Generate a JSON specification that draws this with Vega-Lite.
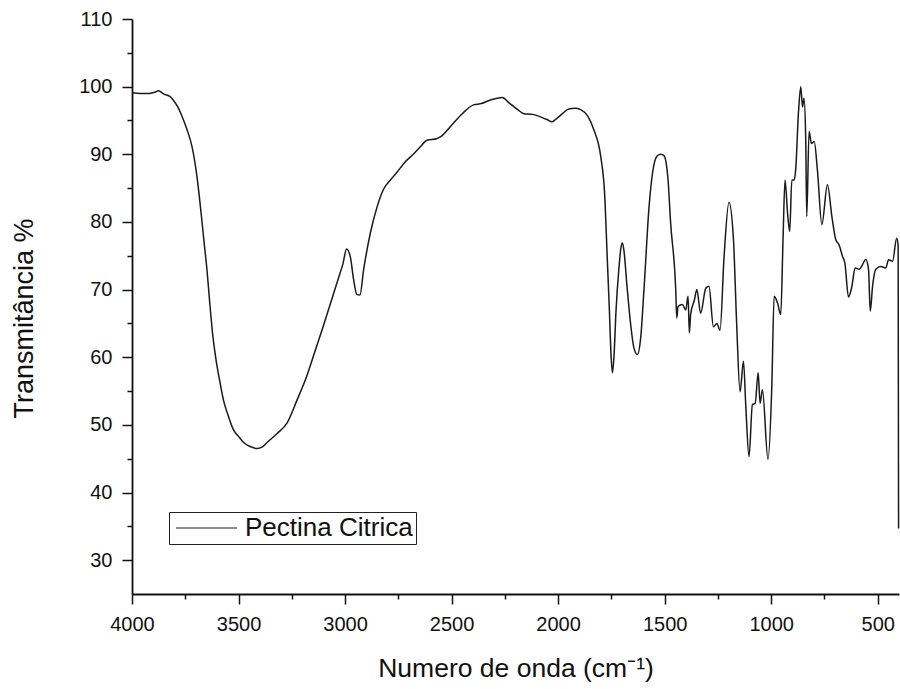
{
  "$schema": "https://vega.github.io/schema/vega-lite/v6.json",
  "width": 767,
  "height": 575,
  "autosize": {"type": "none"},
  "padding": {"left": 132, "top": 19, "right": 1, "bottom": 95},
  "background": "white",
  "config": {
    "view": {"stroke": null},
    "font": "Liberation Sans"
  },
  "data": {
    "values": [
      {"wn": 4000, "t": 99.1, "s": "Pectina Citrica"},
      {"wn": 3960, "t": 99.0, "s": "Pectina Citrica"},
      {"wn": 3920, "t": 99.0, "s": "Pectina Citrica"},
      {"wn": 3890, "t": 99.2, "s": "Pectina Citrica"},
      {"wn": 3876, "t": 99.4, "s": "Pectina Citrica"},
      {"wn": 3850, "t": 98.9, "s": "Pectina Citrica"},
      {"wn": 3820, "t": 98.5, "s": "Pectina Citrica"},
      {"wn": 3806, "t": 98.0, "s": "Pectina Citrica"},
      {"wn": 3785, "t": 97.0, "s": "Pectina Citrica"},
      {"wn": 3765, "t": 95.6, "s": "Pectina Citrica"},
      {"wn": 3740, "t": 93.5, "s": "Pectina Citrica"},
      {"wn": 3718, "t": 91.1, "s": "Pectina Citrica"},
      {"wn": 3695, "t": 86.7, "s": "Pectina Citrica"},
      {"wn": 3674, "t": 80.8, "s": "Pectina Citrica"},
      {"wn": 3660, "t": 76.5, "s": "Pectina Citrica"},
      {"wn": 3648, "t": 72.9, "s": "Pectina Citrica"},
      {"wn": 3635, "t": 68.0, "s": "Pectina Citrica"},
      {"wn": 3620, "t": 63.0, "s": "Pectina Citrica"},
      {"wn": 3605, "t": 59.5, "s": "Pectina Citrica"},
      {"wn": 3590, "t": 56.8, "s": "Pectina Citrica"},
      {"wn": 3571, "t": 53.7, "s": "Pectina Citrica"},
      {"wn": 3550, "t": 51.5, "s": "Pectina Citrica"},
      {"wn": 3524, "t": 49.3, "s": "Pectina Citrica"},
      {"wn": 3500, "t": 48.3, "s": "Pectina Citrica"},
      {"wn": 3476, "t": 47.4, "s": "Pectina Citrica"},
      {"wn": 3445, "t": 46.8, "s": "Pectina Citrica"},
      {"wn": 3413, "t": 46.5, "s": "Pectina Citrica"},
      {"wn": 3390, "t": 46.7, "s": "Pectina Citrica"},
      {"wn": 3366, "t": 47.4, "s": "Pectina Citrica"},
      {"wn": 3320, "t": 48.7, "s": "Pectina Citrica"},
      {"wn": 3272, "t": 50.3, "s": "Pectina Citrica"},
      {"wn": 3225, "t": 53.7, "s": "Pectina Citrica"},
      {"wn": 3180, "t": 57.2, "s": "Pectina Citrica"},
      {"wn": 3140, "t": 61.0, "s": "Pectina Citrica"},
      {"wn": 3100, "t": 64.8, "s": "Pectina Citrica"},
      {"wn": 3060, "t": 68.8, "s": "Pectina Citrica"},
      {"wn": 3030, "t": 71.8, "s": "Pectina Citrica"},
      {"wn": 3010, "t": 73.8, "s": "Pectina Citrica"},
      {"wn": 2993, "t": 76.0, "s": "Pectina Citrica"},
      {"wn": 2975, "t": 74.8, "s": "Pectina Citrica"},
      {"wn": 2960, "t": 71.5, "s": "Pectina Citrica"},
      {"wn": 2945, "t": 69.3, "s": "Pectina Citrica"},
      {"wn": 2930, "t": 69.2, "s": "Pectina Citrica"},
      {"wn": 2913, "t": 72.9, "s": "Pectina Citrica"},
      {"wn": 2881, "t": 78.4, "s": "Pectina Citrica"},
      {"wn": 2849, "t": 82.3, "s": "Pectina Citrica"},
      {"wn": 2820, "t": 84.8, "s": "Pectina Citrica"},
      {"wn": 2787, "t": 86.2, "s": "Pectina Citrica"},
      {"wn": 2760, "t": 87.2, "s": "Pectina Citrica"},
      {"wn": 2720, "t": 88.8, "s": "Pectina Citrica"},
      {"wn": 2680, "t": 90.0, "s": "Pectina Citrica"},
      {"wn": 2650, "t": 91.0, "s": "Pectina Citrica"},
      {"wn": 2613, "t": 92.1, "s": "Pectina Citrica"},
      {"wn": 2570, "t": 92.3, "s": "Pectina Citrica"},
      {"wn": 2551, "t": 92.6, "s": "Pectina Citrica"},
      {"wn": 2500, "t": 94.3, "s": "Pectina Citrica"},
      {"wn": 2450, "t": 96.0, "s": "Pectina Citrica"},
      {"wn": 2397, "t": 97.3, "s": "Pectina Citrica"},
      {"wn": 2360, "t": 97.5, "s": "Pectina Citrica"},
      {"wn": 2320, "t": 98.0, "s": "Pectina Citrica"},
      {"wn": 2262, "t": 98.4, "s": "Pectina Citrica"},
      {"wn": 2230, "t": 97.6, "s": "Pectina Citrica"},
      {"wn": 2190, "t": 96.6, "s": "Pectina Citrica"},
      {"wn": 2160, "t": 96.0, "s": "Pectina Citrica"},
      {"wn": 2120, "t": 95.9, "s": "Pectina Citrica"},
      {"wn": 2080, "t": 95.5, "s": "Pectina Citrica"},
      {"wn": 2050, "t": 95.1, "s": "Pectina Citrica"},
      {"wn": 2030, "t": 94.8, "s": "Pectina Citrica"},
      {"wn": 2010, "t": 95.2, "s": "Pectina Citrica"},
      {"wn": 1980, "t": 96.0, "s": "Pectina Citrica"},
      {"wn": 1950, "t": 96.7, "s": "Pectina Citrica"},
      {"wn": 1920, "t": 96.8, "s": "Pectina Citrica"},
      {"wn": 1894, "t": 96.6, "s": "Pectina Citrica"},
      {"wn": 1860, "t": 95.6, "s": "Pectina Citrica"},
      {"wn": 1832, "t": 93.6, "s": "Pectina Citrica"},
      {"wn": 1800, "t": 89.7, "s": "Pectina Citrica"},
      {"wn": 1782, "t": 84.3, "s": "Pectina Citrica"},
      {"wn": 1769, "t": 74.4, "s": "Pectina Citrica"},
      {"wn": 1760, "t": 67.5, "s": "Pectina Citrica"},
      {"wn": 1751, "t": 60.0, "s": "Pectina Citrica"},
      {"wn": 1745, "t": 57.7, "s": "Pectina Citrica"},
      {"wn": 1738, "t": 60.0, "s": "Pectina Citrica"},
      {"wn": 1728, "t": 67.0, "s": "Pectina Citrica"},
      {"wn": 1715, "t": 73.0, "s": "Pectina Citrica"},
      {"wn": 1705, "t": 76.2, "s": "Pectina Citrica"},
      {"wn": 1698, "t": 76.9, "s": "Pectina Citrica"},
      {"wn": 1690, "t": 75.5, "s": "Pectina Citrica"},
      {"wn": 1678, "t": 71.0, "s": "Pectina Citrica"},
      {"wn": 1660, "t": 65.0, "s": "Pectina Citrica"},
      {"wn": 1645, "t": 61.5, "s": "Pectina Citrica"},
      {"wn": 1628, "t": 60.4, "s": "Pectina Citrica"},
      {"wn": 1612, "t": 63.0, "s": "Pectina Citrica"},
      {"wn": 1597, "t": 70.0, "s": "Pectina Citrica"},
      {"wn": 1573, "t": 82.3, "s": "Pectina Citrica"},
      {"wn": 1557, "t": 87.2, "s": "Pectina Citrica"},
      {"wn": 1534, "t": 89.8, "s": "Pectina Citrica"},
      {"wn": 1518, "t": 90.0, "s": "Pectina Citrica"},
      {"wn": 1503, "t": 89.8, "s": "Pectina Citrica"},
      {"wn": 1484, "t": 86.2, "s": "Pectina Citrica"},
      {"wn": 1472, "t": 79.9, "s": "Pectina Citrica"},
      {"wn": 1448, "t": 70.0, "s": "Pectina Citrica"},
      {"wn": 1443, "t": 65.8, "s": "Pectina Citrica"},
      {"wn": 1437, "t": 67.5, "s": "Pectina Citrica"},
      {"wn": 1417, "t": 67.8, "s": "Pectina Citrica"},
      {"wn": 1401, "t": 67.0, "s": "Pectina Citrica"},
      {"wn": 1390, "t": 69.0, "s": "Pectina Citrica"},
      {"wn": 1384, "t": 63.6, "s": "Pectina Citrica"},
      {"wn": 1378, "t": 66.3, "s": "Pectina Citrica"},
      {"wn": 1360, "t": 68.5, "s": "Pectina Citrica"},
      {"wn": 1349, "t": 70.0, "s": "Pectina Citrica"},
      {"wn": 1331, "t": 66.5, "s": "Pectina Citrica"},
      {"wn": 1307, "t": 70.2, "s": "Pectina Citrica"},
      {"wn": 1292, "t": 70.5, "s": "Pectina Citrica"},
      {"wn": 1271, "t": 64.5, "s": "Pectina Citrica"},
      {"wn": 1255, "t": 65.0, "s": "Pectina Citrica"},
      {"wn": 1240, "t": 64.0, "s": "Pectina Citrica"},
      {"wn": 1221, "t": 74.9, "s": "Pectina Citrica"},
      {"wn": 1198, "t": 82.9, "s": "Pectina Citrica"},
      {"wn": 1177, "t": 77.4, "s": "Pectina Citrica"},
      {"wn": 1162, "t": 65.0, "s": "Pectina Citrica"},
      {"wn": 1146, "t": 54.9, "s": "Pectina Citrica"},
      {"wn": 1130, "t": 59.4, "s": "Pectina Citrica"},
      {"wn": 1119, "t": 52.7, "s": "Pectina Citrica"},
      {"wn": 1104, "t": 45.3, "s": "Pectina Citrica"},
      {"wn": 1088, "t": 53.0, "s": "Pectina Citrica"},
      {"wn": 1075, "t": 53.2, "s": "Pectina Citrica"},
      {"wn": 1061, "t": 57.7, "s": "Pectina Citrica"},
      {"wn": 1052, "t": 53.2, "s": "Pectina Citrica"},
      {"wn": 1041, "t": 55.2, "s": "Pectina Citrica"},
      {"wn": 1015, "t": 44.9, "s": "Pectina Citrica"},
      {"wn": 997, "t": 55.7, "s": "Pectina Citrica"},
      {"wn": 986, "t": 69.0, "s": "Pectina Citrica"},
      {"wn": 970, "t": 68.0, "s": "Pectina Citrica"},
      {"wn": 955, "t": 66.3, "s": "Pectina Citrica"},
      {"wn": 944, "t": 77.8, "s": "Pectina Citrica"},
      {"wn": 935, "t": 86.2, "s": "Pectina Citrica"},
      {"wn": 923, "t": 81.3, "s": "Pectina Citrica"},
      {"wn": 913, "t": 78.6, "s": "Pectina Citrica"},
      {"wn": 903, "t": 86.2, "s": "Pectina Citrica"},
      {"wn": 892, "t": 86.2, "s": "Pectina Citrica"},
      {"wn": 885, "t": 87.7, "s": "Pectina Citrica"},
      {"wn": 872, "t": 96.1, "s": "Pectina Citrica"},
      {"wn": 861, "t": 100.0, "s": "Pectina Citrica"},
      {"wn": 853, "t": 97.0, "s": "Pectina Citrica"},
      {"wn": 846, "t": 98.3, "s": "Pectina Citrica"},
      {"wn": 838, "t": 92.6, "s": "Pectina Citrica"},
      {"wn": 833, "t": 80.8, "s": "Pectina Citrica"},
      {"wn": 822, "t": 93.4, "s": "Pectina Citrica"},
      {"wn": 811, "t": 91.6, "s": "Pectina Citrica"},
      {"wn": 798, "t": 91.9, "s": "Pectina Citrica"},
      {"wn": 783, "t": 87.7, "s": "Pectina Citrica"},
      {"wn": 762, "t": 79.6, "s": "Pectina Citrica"},
      {"wn": 736, "t": 85.5, "s": "Pectina Citrica"},
      {"wn": 715, "t": 80.8, "s": "Pectina Citrica"},
      {"wn": 697, "t": 77.4, "s": "Pectina Citrica"},
      {"wn": 681, "t": 76.6, "s": "Pectina Citrica"},
      {"wn": 665, "t": 74.9, "s": "Pectina Citrica"},
      {"wn": 654, "t": 73.9, "s": "Pectina Citrica"},
      {"wn": 637, "t": 68.9, "s": "Pectina Citrica"},
      {"wn": 621, "t": 70.5, "s": "Pectina Citrica"},
      {"wn": 606, "t": 73.2, "s": "Pectina Citrica"},
      {"wn": 587, "t": 73.0, "s": "Pectina Citrica"},
      {"wn": 571, "t": 73.7, "s": "Pectina Citrica"},
      {"wn": 556, "t": 74.5, "s": "Pectina Citrica"},
      {"wn": 543, "t": 73.0, "s": "Pectina Citrica"},
      {"wn": 535, "t": 66.8, "s": "Pectina Citrica"},
      {"wn": 524, "t": 70.5, "s": "Pectina Citrica"},
      {"wn": 509, "t": 73.0, "s": "Pectina Citrica"},
      {"wn": 485, "t": 73.4, "s": "Pectina Citrica"},
      {"wn": 462, "t": 73.2, "s": "Pectina Citrica"},
      {"wn": 449, "t": 74.4, "s": "Pectina Citrica"},
      {"wn": 430, "t": 74.2, "s": "Pectina Citrica"},
      {"wn": 411, "t": 77.6, "s": "Pectina Citrica"},
      {"wn": 404, "t": 76.5, "s": "Pectina Citrica"},
      {"wn": 402, "t": 34.7, "s": "Pectina Citrica"}
    ]
  },
  "layer": [
    {
      "mark": {"type": "line", "strokeOpacity": 0},
      "encoding": {
        "x": {
          "field": "wn",
          "type": "quantitative",
          "scale": {"domain": [4000, 400], "nice": false, "zero": false},
          "axis": {
            "orient": "bottom",
            "title": null,
            "values": [3750, 3250, 2750, 2250, 1750, 1250, 750],
            "labels": false,
            "domain": false,
            "grid": false,
            "ticks": true,
            "tickSize": 5,
            "tickColor": "#111",
            "tickWidth": 1.5
          }
        },
        "y": {
          "field": "t",
          "type": "quantitative",
          "scale": {"domain": [25, 110], "nice": false, "zero": false},
          "axis": {
            "orient": "left",
            "title": null,
            "values": [35, 45, 55, 65, 75, 85, 95, 105],
            "labels": false,
            "domain": false,
            "grid": false,
            "ticks": true,
            "tickSize": 5,
            "tickColor": "#111",
            "tickWidth": 1.5
          }
        }
      }
    },
    {
      "mark": {"type": "line", "strokeWidth": 1.5, "interpolate": "monotone"},
      "encoding": {
        "x": {
          "field": "wn",
          "type": "quantitative",
          "scale": {"domain": [4000, 400], "nice": false, "zero": false},
          "axis": {
            "orient": "bottom",
            "title": "Numero de onda (cm⁻¹)",
            "values": [4000, 3500, 3000, 2500, 2000, 1500, 1000, 500],
            "format": "d",
            "labelOverlap": false,
            "labelFlush": false,
            "labelBound": false,
            "grid": false,
            "domainColor": "#111",
            "domainWidth": 1.8,
            "tickColor": "#111",
            "tickWidth": 1.5,
            "tickSize": 10,
            "labelPadding": 10,
            "labelFontSize": 20,
            "labelColor": "#111",
            "labelFont": "Liberation Sans",
            "titleFont": "Liberation Sans",
            "titleFontSize": 26.5,
            "titleFontWeight": "normal",
            "titleColor": "#111",
            "titlePadding": 21
          }
        },
        "y": {
          "field": "t",
          "type": "quantitative",
          "scale": {"domain": [25, 110], "nice": false, "zero": false},
          "axis": {
            "orient": "left",
            "title": "Transmitância %",
            "values": [30, 40, 50, 60, 70, 80, 90, 100, 110],
            "labelOverlap": false,
            "labelFlush": false,
            "labelBound": false,
            "grid": false,
            "domainColor": "#111",
            "domainWidth": 1.8,
            "tickColor": "#111",
            "tickWidth": 1.5,
            "tickSize": 10,
            "labelPadding": 10,
            "labelFontSize": 20,
            "labelColor": "#111",
            "labelFont": "Liberation Sans",
            "titleFont": "Liberation Sans",
            "titleFontSize": 27,
            "titleFontWeight": "normal",
            "titleColor": "#111",
            "titlePadding": 40,
            "titleY": 299
          }
        },
        "color": {
          "field": "s",
          "type": "nominal",
          "scale": {"range": ["#1a1a1a"]},
          "legend": {
            "title": null,
            "orient": "none",
            "legendX": 37,
            "legendY": 493,
            "strokeColor": "#222",
            "padding": 3,
            "symbolType": "M-0.9,0H5.2",
            "symbolSize": 400,
            "symbolStrokeWidth": 1.2,
            "symbolStrokeColor": "#555",
            "labelFontSize": 26,
            "labelFont": "Liberation Sans",
            "labelColor": "#111",
            "labelOffset": 47,
            "labelLimit": 0
          }
        }
      }
    }
  ],
  "resolve": {"axis": {"x": "independent", "y": "independent"}}
}
